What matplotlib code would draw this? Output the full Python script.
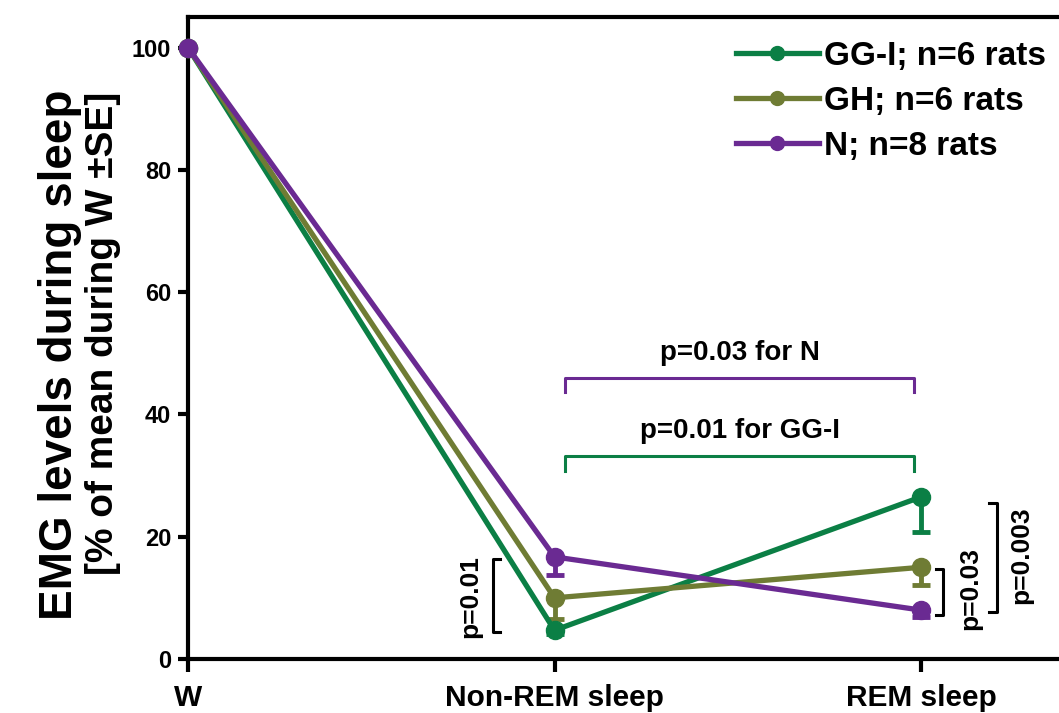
import matplotlib
matplotlib.use("Agg")
import matplotlib.pyplot as plt
from matplotlib.lines import Line2D

plt.rcParams['font.family'] = ['Liberation Sans', 'DejaVu Sans']
plt.rcParams['font.weight'] = 'bold'

categories = ["W", "Non-REM sleep", "REM sleep"]
series_names = ["GG-I; n=6 rats", "GH; n=6 rats", "N; n=8 rats"]
gg_mean = [100, 4.7, 26.5]
gg_se = [0, 0.6, 5.7]
gh_mean = [100, 10.0, 15.0]
gh_se = [0, 3.5, 2.9]
n_mean = [100, 16.7, 8.0]
n_se = [0, 3.0, 1.1]
yticks = [0, 20, 40, 60, 80, 100]

colors = ["#0B7F45", "#6F7C34", "#6A2A92"]

fig = plt.figure(figsize=(10.59, 7.13), dpi=100)
ax = fig.add_axes([188/1059, 54/713, 2.5*366.5/1059, 642/713])

x = list(range(len(categories)))
for mean, se, c in zip([gg_mean, gh_mean, n_mean], [gg_se, gh_se, n_se], colors):
    ax.errorbar(x, mean, yerr=[se, [0]*len(se)], color=c, lw=3.8, marker='o',
                markersize=13, capsize=6.5, capthick=3.5, elinewidth=3.5, clip_on=False, zorder=3)

ax.set_xlim(0, 2.5)
ax.set_ylim(0, 105)
ax.set_xticks(x)
ax.set_xticklabels(categories, fontsize=21.5, fontweight='bold')
ax.set_yticks(yticks)
ax.set_yticklabels([str(t) for t in yticks], fontsize=17, fontweight='bold')
for s in ax.spines.values():
    s.set_linewidth(3)
ax.tick_params(axis='x', length=9, width=3, pad=9)
ax.tick_params(axis='y', length=7, width=3, pad=5)

fig.text(60/1059, 1 - 355/713, "EMG levels during sleep", rotation=90, fontsize=33,
         fontweight='bold', ha='center', va='center')
fig.text(103/1059, 1 - 333/713, "[% of mean during W \u00b1SE]", rotation=90, fontsize=28,
         fontweight='bold', ha='center', va='center')

# brackets across conditions
ax.plot([1.03, 1.03, 1.98, 1.98], [43.7, 46.0, 46.0, 43.7], color=colors[2], lw=2.2)
ax.text(1.505, 50.0, "p=0.03 for N", ha='center', va='center', fontsize=20, fontweight='bold')
ax.plot([1.03, 1.03, 1.98, 1.98], [30.8, 33.2, 33.2, 30.8], color=colors[0], lw=2.2)
ax.text(1.505, 37.3, "p=0.01 for GG-I", ha='center', va='center', fontsize=20, fontweight='bold')

# vertical brackets
ax.plot([0.851, 0.832, 0.832, 0.851], [4.4, 4.4, 16.3, 16.3], color='black', lw=2.2)
ax.text(0.77, 10.2, "p=0.01", rotation=90, ha='center', va='center', fontsize=19, fontweight='bold')
ax.plot([2.04, 2.06, 2.06, 2.04], [7.2, 7.2, 14.7, 14.7], color='black', lw=2.2)
ax.text(2.135, 11.5, "p=0.03", rotation=90, ha='center', va='center', fontsize=19, fontweight='bold')
ax.plot([2.185, 2.207, 2.207, 2.185], [7.7, 7.7, 25.5, 25.5], color='black', lw=2.2)
ax.text(2.273, 17.0, "p=0.003", rotation=90, ha='center', va='center', fontsize=19, fontweight='bold')

handles = [Line2D([0], [0], color=c, lw=3.8, marker='o', markersize=10) for c in colors]
leg = ax.legend(handles, series_names, loc='upper right', bbox_to_anchor=(1.016, 0.985),
                bbox_transform=fig.transFigure, frameon=False, prop={'size': 24, 'weight': 'bold'},
                handlelength=2.5, handletextpad=0.15, labelspacing=0.42)

fig.savefig("out.png", dpi=100)
